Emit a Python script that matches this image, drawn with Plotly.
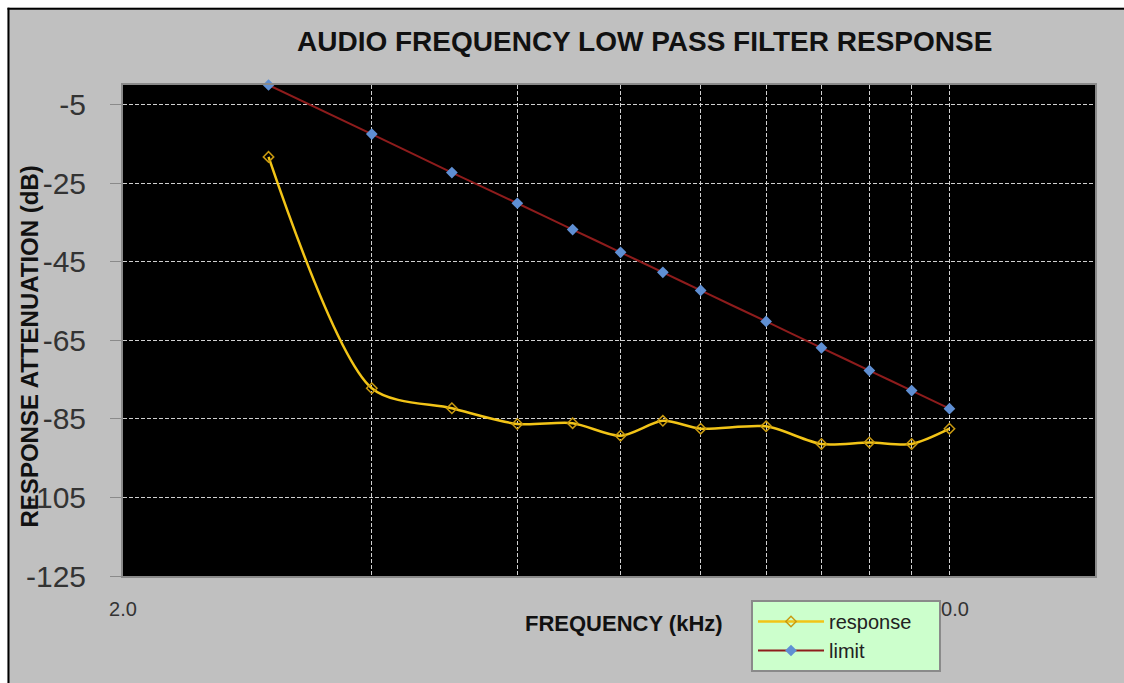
import plotly.graph_objects as go

freq_khz = [3, 4, 5, 6, 7, 8, 9, 10, 12, 14, 16, 18, 20]
response_db = [-18.3, -77.2, -82.3, -86.3, -86.1, -89.3, -85.5, -87.5, -86.9, -91.4, -91.0, -91.4, -87.5]
limit_db = [0.0, -12.5, -22.3, -30.1, -36.8, -42.6, -47.7, -52.3, -60.2, -66.9, -72.7, -77.8, -82.4]

series_names = ["response", "limit"]
x_grid_vals = [2, 4, 6, 8, 10, 12, 14, 16, 18, 20]
x_grid_text = ["2.0", "", "", "", "", "", "", "", "", "20.0"]
y_tick_vals = [-125, -105, -85, -65, -45, -25, -5]
y_tick_text = ["-125", "-105", "-85", "-65", "-45", "-25", "-5"]

W, H = 1124, 683
L, R, T, B = 123, 1095, 85, 577
pw, ph = R - L, B - T


def px(x):
    return (x - L) / pw


def py(y):
    return (B - y) / ph


FONT = "Liberation Sans, Arial, sans-serif"
PAD = "\u00a0" * 4  # widens the legend box a little, like the original

fig = go.Figure()
fig.add_trace(go.Scatter(
    x=freq_khz, y=response_db, name=series_names[0] + PAD, mode="lines+markers",
    line=dict(color="#F2C417", width=2.5, shape="spline", smoothing=0.8),
    marker=dict(symbol="diamond-open", size=8, color="#C99A10", line=dict(width=1.5, color="#C99A10")),
    cliponaxis=False,
))
fig.add_trace(go.Scatter(
    x=freq_khz, y=limit_db, name=series_names[1], mode="lines+markers",
    line=dict(color="#8E1C1C", width=2, shape="spline", smoothing=0.8),
    marker=dict(symbol="diamond", size=9, color="#5F8FD3"),
    cliponaxis=False,
))

fig.update_layout(
    width=W, height=H,
    margin=dict(l=L, r=W - R, t=T, b=H - B, pad=0),
    paper_bgcolor="#C0C0C0",
    plot_bgcolor="#000000",
    font=dict(family=FONT, color="#222222"),
    showlegend=True,
    legend=dict(
        x=px(751), y=py(600), xanchor="left", yanchor="top",
        bgcolor="#CCFFCC", bordercolor="#8A8A8A", borderwidth=2,
        font=dict(size=20, family=FONT, color="#222222"),
        itemwidth=66,
    ),
    xaxis=dict(
        type="log", range=[0.30103, 1.47712],
        tickmode="array", tickvals=x_grid_vals, ticktext=x_grid_text,
        tickfont=dict(size=20, family=FONT, color="#333333"),
        ticks="", ticklabelstandoff=14,
        showgrid=True, gridcolor="#D0D0D0", gridwidth=1, griddash="4px,2px",
        showline=True, linecolor="#8A8A8A", linewidth=2, mirror=True,
        zeroline=False,
    ),
    yaxis=dict(
        range=[-125, 0],
        tickmode="array", tickvals=y_tick_vals, ticktext=y_tick_text,
        tickfont=dict(size=30, family=FONT, color="#333333"),
        ticks="outside", ticklen=11, tickcolor="#8A8A8A", tickwidth=1,
        ticklabelstandoff=18,
        showgrid=True, gridcolor="#D0D0D0", gridwidth=1, griddash="4px,2px",
        showline=True, linecolor="#8A8A8A", linewidth=2, mirror=True,
        zeroline=False,
    ),
    annotations=[
        dict(text="<b>AUDIO FREQUENCY LOW PASS FILTER RESPONSE</b>", xref="paper", yref="paper",
             x=px(644), y=py(41), xanchor="center", yanchor="middle", showarrow=False,
             font=dict(size=28, family=FONT, color="#111111")),
        dict(text="<b>FREQUENCY (kHz)</b>", xref="paper", yref="paper",
             x=px(624), y=py(625), xanchor="center", yanchor="middle", showarrow=False,
             font=dict(size=22, family=FONT, color="#111111")),
        dict(text="<b>RESPONSE ATTENUATION (dB)</b>", xref="paper", yref="paper",
             x=px(29), y=py(347), xanchor="center", yanchor="middle", showarrow=False,
             textangle=-90, font=dict(size=24, family=FONT, color="#111111")),
    ],
    shapes=[
        dict(type="rect", xref="paper", yref="paper", x0=px(-5), x1=px(7.5), y0=py(H + 5), y1=py(-5),
             fillcolor="#FFFFFF", line=dict(width=0), layer="above"),
        dict(type="rect", xref="paper", yref="paper", x0=px(-5), x1=px(W + 5), y0=py(7.5), y1=py(-5),
             fillcolor="#FFFFFF", line=dict(width=0), layer="above"),
        dict(type="line", xref="paper", yref="paper", x0=px(8.5), x1=px(8.5), y0=py(7.5), y1=py(H + 5),
             line=dict(color="#000000", width=2), layer="above"),
        dict(type="line", xref="paper", yref="paper", x0=px(7.5), x1=px(W + 5), y0=py(8.5), y1=py(8.5),
             line=dict(color="#000000", width=2), layer="above"),
    ],
)

fig.write_html(
    "out.html",
    config={"displayModeBar": False},
    post_script=(
        "document.body.style.margin='0';"
        "document.documentElement.style.overflow='hidden';"
        "document.body.style.overflow='hidden';"
    ),
)
